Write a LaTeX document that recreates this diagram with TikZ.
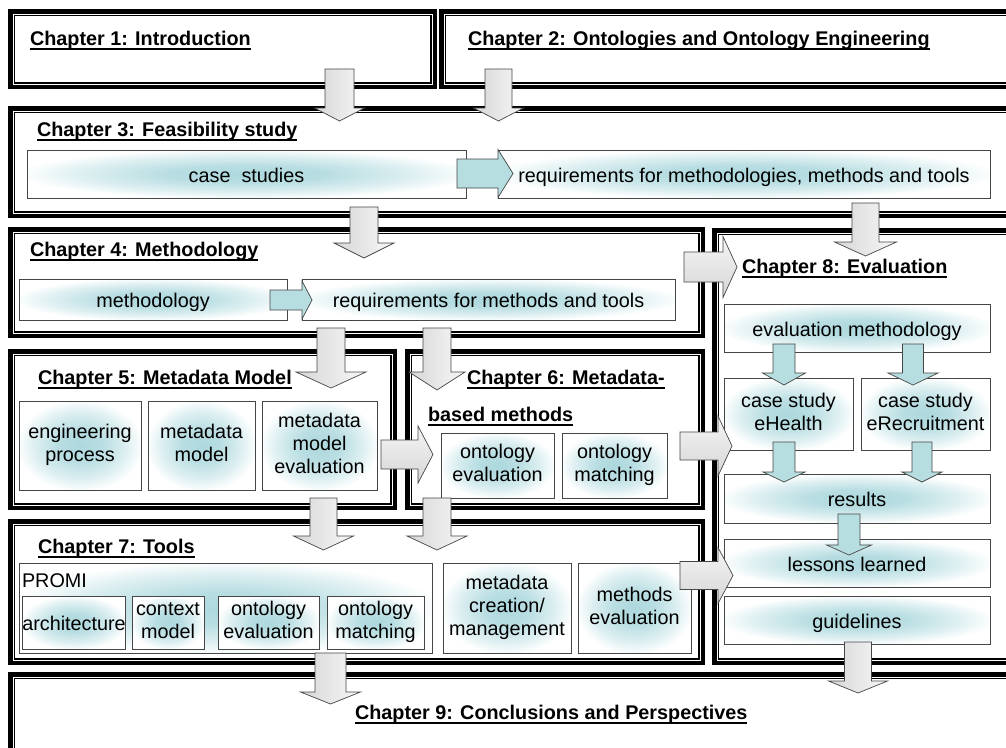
\documentclass[tikz,border=0pt]{standalone}
\usepackage{fontspec}
\setmainfont{Liberation Sans}
\definecolor{glow}{RGB}{172,216,221}
\definecolor{bline}{RGB}{70,70,70}
\definecolor{tealarr}{RGB}{182,221,223}
\pgfdeclareradialshading{glowsh}{\pgfpoint{0bp}{0bp}}{color(0bp)=(glow); color(9bp)=(glow!85!white); color(19bp)=(glow!40!white); color(26bp)=(white); color(50bp)=(white)}
\newcommand\chul[1]{\setbox0\hbox{#1}\rlap{\vrule height -2.8pt depth 4.6pt width \wd0}\box0}
\newcommand\bxstrut{\rule[-4.5pt]{0pt}{25pt}}
\tikzset{
  frameo/.style={draw=black, line width=4.5pt, fill=white, rectangle, inner sep=0pt, outer sep=0pt},
  framei/.style={draw=black, line width=1.5pt},
  bxs/.style={draw=bline, line width=0.9pt, rectangle, inner sep=0pt, outer sep=0pt, align=center,
    shading=glowsh, font=\fontsize{19.8}{23}\selectfont,
    execute at begin node=\bxstrut, execute at end node=\bxstrut},
  ttl/.style={anchor=base west, inner sep=0pt, outer sep=0pt, font=\fontsize{19.8}{23}\selectfont\bfseries},
  lbl/.style={anchor=base west, inner sep=0pt, outer sep=0pt, font=\fontsize{19.8}{23}\selectfont},
  garr/.style={draw=bline, line width=0.7pt, left color=gray!32, right color=gray!6, line join=miter},
  garrh/.style={draw=bline, line width=0.7pt, top color=gray!8, bottom color=gray!32, line join=miter},
  tarr/.style={draw=bline, line width=0.7pt, fill=tealarr, line join=miter},
}
\newcommand\chapframe[5]{%
  \node[frameo, minimum width={#4-#2-4.5}, minimum height={#5-#3-4.5}] (#1) at ({(#2+#4)/2},{(#3+#5)/2}) {};
  \draw[framei] ({#2+6.25},{#3+6.25}) rectangle ({#4-6.25},{#5-6.25});}
\newcommand\bx[6]{%
  \node[bxs, minimum width={#4-#2}, minimum height={#5-#3}] (#1) at ({(#2+#4)/2},{(#3+#5)/2}) {#6};}
\newcommand\varr[7]{%
  \draw[#1] ({#2-#6},#3) -- ({#2+#6},#3) -- ({#2+#6},#4) -- ({#2+#7},#4) -- (#2,#5) -- ({#2-#7},#4) -- ({#2-#6},#4) -- cycle;}
\newcommand\harr[7]{%
  \draw[#1] (#3,{#2-#6}) -- (#4,{#2-#6}) -- (#4,{#2-#7}) -- (#5,#2) -- (#4,{#2+#7}) -- (#4,{#2+#6}) -- (#3,{#2+#6}) -- cycle;}
\begin{document}
\begin{tikzpicture}[x=1pt,y=-1pt]
\useasboundingbox (0,0) rectangle (1006,747);
\fill[white] (0,0) rectangle (1006,747);
\clip (0,0) rectangle (1006,747);
% chapter frames
\chapframe{c1}{8}{9}{437}{89}
\chapframe{c2}{439}{9}{1030}{89}
\chapframe{c3}{8}{106}{1030}{218}
\chapframe{c4}{8}{227}{705}{338}
\chapframe{c8}{712}{228}{1030}{665}
\chapframe{c5}{8}{349}{397}{510}
\chapframe{c6}{405}{349}{705}{510}
\chapframe{c7}{8}{519}{705}{665}
\chapframe{c9}{8}{672}{1030}{775}
% titles
\node[ttl] (t1) at (30,45) {\chul{Chapter 1: Introduction}};
\node[ttl] (t2) at (468,45) {\chul{Chapter 2: Ontologies and Ontology Engineering}};
\node[ttl] (t3) at (37,136) {\chul{Chapter 3: Feasibility study}};
\node[ttl] (t4) at (30,256) {\chul{Chapter 4: Methodology}};
\node[ttl] (t5) at (38,384) {\chul{Chapter 5: Metadata Model}};
\node[ttl] (t6a) at (467,384) {\chul{Chapter 6: Metadata-}};
\node[ttl] (t6b) at (428,421) {\chul{based methods}};
\node[ttl] (t7) at (38,553) {\chul{Chapter 7: Tools}};
\node[ttl] (t8) at (742,273) {\chul{Chapter 8: Evaluation}};
\node[ttl] (t9) at (355,719) {\chul{Chapter 9: Conclusions and Perspectives}};
% boxes
\bx{cs}{27}{150}{466}{198}{case\ \ studies}
\bx{req1}{498}{150}{990}{198}{requirements for methodologies, methods and tools}
\bx{meth}{19}{279}{287}{320}{methodology}
\bx{req2}{302}{279}{675}{320}{requirements for methods and tools}
\bx{eng}{19}{401}{141}{490}{engineering\\process}
\bx{mdm}{148}{401}{255}{490}{metadata\\model}
\bx{mde}{262}{401}{377}{490}{metadata\\model\\evaluation}
\bx{oe}{441}{433}{554}{498}{ontology\\evaluation}
\bx{om}{562}{433}{667}{498}{ontology\\matching}
\bx{promi}{19}{563}{432}{653}{}
\node[lbl] (promil) at (22,587) {PROMI};
\bx{arch}{24}{596}{124}{649}{architecture}
\bx{ctx}{132}{596}{204}{649}{context\\model}
\bx{poe}{218}{596}{319}{649}{ontology\\evaluation}
\bx{pom}{327}{596}{424}{649}{ontology\\matching}
\bx{mcm}{443}{563}{571}{653}{metadata\\creation/\\management}
\bx{mev}{578}{563}{691}{653}{methods\\evaluation}
\bx{evm}{724}{304}{990}{352}{evaluation methodology}
\bx{eh}{724}{378}{853}{450}{case study\\eHealth}
\bx{er}{861}{378}{990}{450}{case study\\eRecruitment}
\bx{res}{724}{474}{990}{523}{results}
\bx{les}{724}{539}{990}{587}{lessons learned}
\bx{gui}{724}{596}{990}{644}{guidelines}
% gray block arrows (vertical)
\varr{garr}{339.5}{69}{108}{121}{14.5}{25}
\varr{garr}{498.5}{69}{108}{121}{13.5}{25}
\varr{garr}{364}{207}{243}{258}{14}{30}
\varr{garr}{865.5}{203}{242}{256}{13.5}{31}
\varr{garr}{331}{328}{372}{388}{14}{35}
\varr{garr}{437}{328}{372}{390}{14}{28}
\varr{garr}{323.5}{498}{536}{550}{13.5}{30}
\varr{garr}{437}{498}{536}{550}{14}{30}
\varr{garr}{330.5}{653}{692}{704}{15.5}{30}
\varr{garr}{858}{642}{681}{693}{13.5}{29.5}
% gray block arrows (horizontal)
\harr{garrh}{267}{684}{723}{737}{15}{30.5}
\harr{garrh}{454.5}{381}{418}{433}{14.5}{28.5}
\harr{garrh}{446}{680}{718}{732}{14}{30}
\harr{garrh}{575.5}{680}{718}{733}{14}{28}
% teal arrows
\harr{tarr}{173.5}{457}{498}{513}{14.5}{24}
\harr{tarr}{300}{270}{302}{312}{10}{19}
\varr{tarr}{784}{344}{373}{385}{11}{21.5}
\varr{tarr}{913}{344}{373}{385}{10.5}{25}
\varr{tarr}{784}{442}{472}{482}{11}{21}
\varr{tarr}{922}{442}{472}{482}{10}{20}
\varr{tarr}{849}{514}{545}{555}{11}{22.5}
\end{tikzpicture}
\end{document}
